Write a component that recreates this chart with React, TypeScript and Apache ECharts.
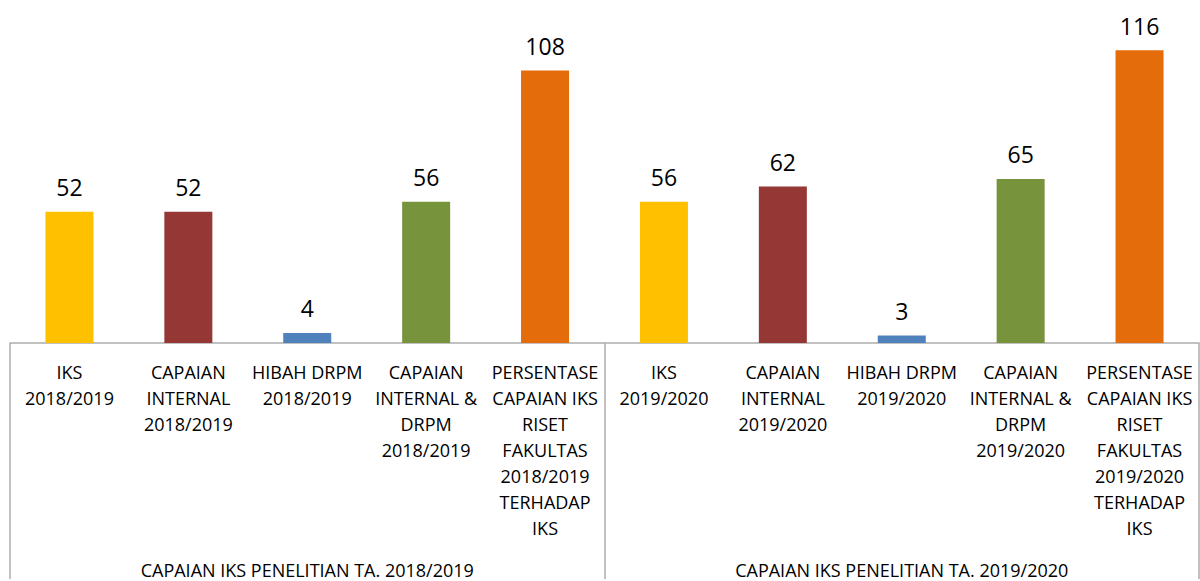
import React, { useEffect, useRef } from "react";
import * as echarts from "echarts";

const categories = [
  "IKS\n2018/2019",
  "CAPAIAN\nINTERNAL\n2018/2019",
  "HIBAH DRPM\n2018/2019",
  "CAPAIAN\nINTERNAL &\nDRPM\n2018/2019",
  "PERSENTASE\nCAPAIAN IKS\nRISET\nFAKULTAS\n2018/2019\nTERHADAP\nIKS",
  "IKS\n2019/2020",
  "CAPAIAN\nINTERNAL\n2019/2020",
  "HIBAH DRPM\n2019/2020",
  "CAPAIAN\nINTERNAL &\nDRPM\n2019/2020",
  "PERSENTASE\nCAPAIAN IKS\nRISET\nFAKULTAS\n2019/2020\nTERHADAP\nIKS",
];
const groups = [
  "CAPAIAN IKS PENELITIAN TA. 2018/2019",
  "CAPAIAN IKS PENELITIAN TA. 2019/2020",
];
const values = [52, 52, 4, 56, 108, 56, 62, 3, 65, 116];
const colors = [
  "#FFC000", "#953735", "#4F81BD", "#77933C", "#E46C0A",
  "#FFC000", "#953735", "#4F81BD", "#77933C", "#E46C0A",
];

export default function App() {
  const ref = useRef<HTMLDivElement>(null);
  useEffect(() => {
    if (!ref.current) return;
    const chart = echarts.init(ref.current, undefined, { renderer: "svg" });
    const font = "'Open Sans', sans-serif";
    chart.setOption({
      animation: false,
      grid: { left: 10, right: 1, top: 1, height: 345 },
      xAxis: [
        {
          type: "category",
          data: categories,
          position: "bottom",
          axisLine: { show: true, lineStyle: { color: "#ADADAD", width: 1.5 } },
          axisTick: { show: false },
          axisLabel: {
            interval: 0,
            margin: 16,
            fontFamily: font,
            fontSize: 18,
            lineHeight: 26,
            color: "#000",
            align: "center",
          },
        },
        {
          type: "category",
          data: groups,
          position: "bottom",
          axisLine: { show: false },
          axisTick: {
            show: true,
            length: 236,
            lineStyle: { color: "#ADADAD", width: 1.5 },
          },
          axisLabel: {
            interval: 0,
            margin: 216,
            fontFamily: font,
            fontSize: 18,
            lineHeight: 22,
            color: "#000",
          },
        },
      ],
      yAxis: { type: "value", min: 0, max: 135.5, show: false, splitLine: { show: false } },
      series: [
        {
          type: "bar",
          xAxisIndex: 0,
          data: values.map((v, i) => ({ value: v, itemStyle: { color: colors[i] } })),
          barWidth: 48,
          label: {
            show: true,
            position: "top",
            distance: 13,
            fontFamily: font,
            fontSize: 23,
            color: "#000",
          },
        },
      ],
    });
    return () => chart.dispose();
  }, []);
  return <div ref={ref} style={{ width: 1200, height: 581, position: "absolute", left: 0, top: 0 }} />;
}
